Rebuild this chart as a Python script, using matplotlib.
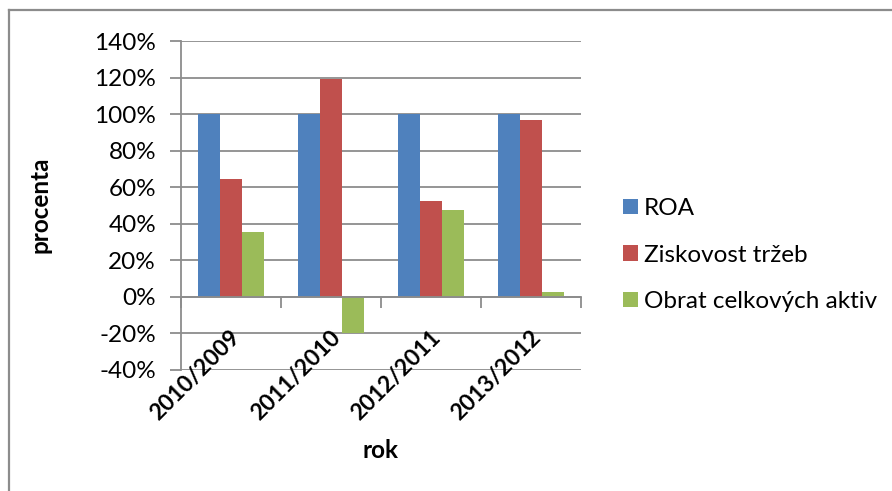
import numpy as np
import matplotlib
matplotlib.use("Agg")
import matplotlib.pyplot as plt
from matplotlib.patches import Patch
from matplotlib.lines import Line2D

plt.rcParams['font.family'] = ['Lato', 'DejaVu Sans']

# podíly ukazatelů (meziroční změny)
obdobi = ["2010/2009", "2011/2010", "2012/2011", "2013/2012"]
roa = [100, 100, 100, 100]
ziskovost = [64.6, 119.0, 52.6, 97.0]
obrat = [35.4, -20.0, 47.5, 2.8]

nazvy = ["ROA", "Ziskovost tržeb", "Obrat celkových aktiv"]
barvy = ["#4F81BD", "#C0504D", "#9BBB59"]
seda = "#8C8C8C"
fs = 17.5

fig = plt.figure(figsize=(8.92, 4.91), dpi=100)
ax = fig.add_axes([181/892, 121/491, 400/892, 329/491])

x = np.arange(len(obdobi))
w = 0.22
for k, serie in enumerate([roa, ziskovost, obrat]):
    ax.bar(x + (k - 1) * w, serie, width=w, color=barvy[k], zorder=3)

ax.set_xlim(-0.5, 3.5)
ax.set_ylim(-40, 140)
ax.set_yticks(np.arange(-40, 141, 20))
ax.set_yticklabels([f"{v}%" for v in range(-40, 141, 20)], fontsize=fs)
ax.yaxis.grid(True, color=seda, linewidth=1.3, zorder=0)
ax.tick_params(axis='y', length=8, width=1.3, color=seda, pad=10)

# vodorovná osa prochází nulou, značky na hranicích kategorií
ax.spines['bottom'].set_position(('data', 0))
ax.spines['bottom'].set_color(seda)
ax.spines['bottom'].set_linewidth(1.3)
ax.spines['bottom'].set_zorder(4)
ax.spines['left'].set_color(seda)
ax.spines['left'].set_linewidth(1.3)
ax.spines['top'].set_visible(False)
ax.spines['right'].set_visible(False)
ax.set_xticks(np.arange(-0.5, 3.6, 1.0))
ax.set_xticklabels([])
ax.tick_params(axis='x', length=8, width=1.3, color=seda)

for i, o in enumerate(obdobi):
    ax.annotate(o, xy=(i, 0), xycoords='data', xytext=(6, -37),
                textcoords='offset pixels', rotation=45, rotation_mode='anchor',
                ha='right', va='center', fontsize=16.5, fontweight='bold',
                annotation_clip=False)

fig.text(381/892, 1 - 451/491, "rok", ha='center', va='center',
         fontsize=fs, fontweight='bold')
fig.text(40/892, 1 - 205/491, "procenta", ha='center', va='center',
         rotation=90, fontsize=fs, fontweight='bold')

handles = [Patch(facecolor=c, edgecolor='none') for c in barvy]
fig.legend(handles, nazvy, loc='center left', bbox_to_anchor=(623/892, 1 - 255/491),
           frameon=False, fontsize=fs, handlelength=0.6, handleheight=0.6,
           handletextpad=0.25, labelspacing=1.05, borderpad=0, borderaxespad=0)

# rámeček grafu (levá a horní hrana)
fig.add_artist(Line2D([9/892, 9/892], [0, 1 - 10/491], color=seda, linewidth=1.6))
fig.add_artist(Line2D([9/892, 1], [1 - 10/491, 1 - 10/491], color=seda, linewidth=1.6))

fig.savefig("out.png", dpi=100)
